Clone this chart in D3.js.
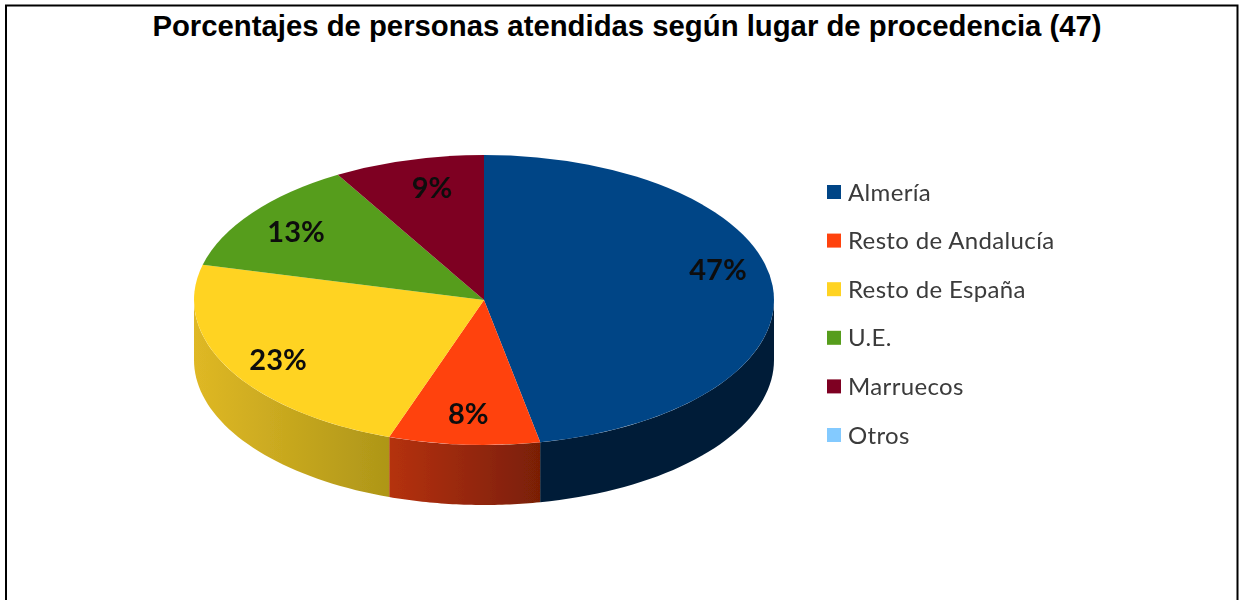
<!DOCTYPE html>
<html><head><meta charset="utf-8">
<script src="https://cdn.jsdelivr.net/npm/d3@7/dist/d3.min.js"></script>
<style>html,body{margin:0;padding:0;background:#fff;overflow:hidden}svg{display:block}</style>
</head><body><svg id="c" width="1243" height="600"></svg>
<script>
const titleText = "Porcentajes de personas atendidas según lugar de procedencia (47)";
const categories = ["Almería","Resto de Andalucía","Resto de España","U.E.","Marruecos","Otros"];
const shares = [46.9,8.4,23.6,12.7,8.4,0];
const labels = ["47%","8%","23%","13%","9%",""];
const colors = ["#004586","#ff420e","#ffd320","#579d1c","#7e0021","#83caff"];
const sideLeft = ["#001c38","#b5310f","#dfb825","#3a6a12","#500015","#83caff"];
const sideRight = ["#001c38","#7a1f06","#ae9618","#3a6a12","#500015","#83caff"];

const svg = d3.select("#c");
const defs = svg.append("defs");
defs.append("filter").attr("id","soft").append("feGaussianBlur").attr("stdDeviation",0.7);

svg.append("path").attr("d","M6 600V5.5H1237.5V600").attr("fill","none").attr("stroke","#000").attr("stroke-width",2);
svg.append("text").attr("x",627).attr("y",36).attr("text-anchor","middle")
  .attr("font-family","Liberation Sans").attr("font-weight","bold").attr("font-size",29.3).attr("fill","#000").text(titleText);

const cx=484, cy=300, rx=290, ry=145, depth=60;
const pie = d3.pie().sort(null).value(d=>d.share);
const data = categories.map((name,i)=>({name,share:shares[i],label:labels[i],i}));
const arcs = pie(data);
const px = d3.scaleLinear().domain([-1,1]).range([cx-rx,cx+rx]);
const py = d3.scaleLinear().domain([-1,1]).range([cy-ry,cy+ry]);
const chart = svg.append("g").attr("filter","url(#soft)");

const sideG = chart.append("g");
arcs.forEach(a=>{
  const a0=Math.max(a.startAngle,Math.PI/2), a1=Math.min(a.endAngle,3*Math.PI/2);
  if(a1<=a0) return;
  const id="side"+a.data.i;
  const g=defs.append("linearGradient").attr("id",id).attr("gradientUnits","userSpaceOnUse")
    .attr("x1",px(Math.min(Math.sin(a0),Math.sin(a1)))).attr("x2",px(Math.max(Math.sin(a0),Math.sin(a1)))).attr("y1",0).attr("y2",0);
  g.append("stop").attr("offset",0).attr("stop-color",sideLeft[a.data.i]);
  g.append("stop").attr("offset",1).attr("stop-color",sideRight[a.data.i]);
  const p=d3.range(0,41).map(k=>a0+(a1-a0)*k/40);
  const pts=p.map(t=>[px(Math.sin(t)),py(-Math.cos(t))]);
  const d=d3.line()(pts)+"L"+pts.slice().reverse().map(q=>q[0]+" "+(q[1]+depth)).join("L")+"Z";
  sideG.append("path").attr("d",d).attr("fill","url(#"+id+")");
});

const arcGen=d3.arc().innerRadius(0).outerRadius(1);
chart.append("g").attr("transform",`translate(${cx},${cy}) scale(${rx},${ry})`)
  .selectAll("path").data(arcs.filter(a=>a.data.share>0)).join("path")
  .attr("d",arcGen).attr("fill",d=>colors[d.data.i]);

// label placement: radius fraction and small angular nudge per wedge
const labelR=[0.833,0.79,0.822,0.80,0.79];
const labelNudge=[-8.8,0,-1.8,-1,2].map(v=>v*Math.PI/180);
const mid=d=>(d.startAngle+d.endAngle)/2+labelNudge[d.data.i];
chart.append("g").selectAll("text").data(arcs.filter(a=>a.data.label)).join("text")
  .attr("x",d=>px(labelR[d.data.i]*Math.sin(mid(d))))
  .attr("y",d=>py(-labelR[d.data.i]*Math.cos(mid(d)))+10)
  .attr("text-anchor","middle").attr("font-family","Lato").attr("font-weight","bold")
  .attr("font-size",29).attr("fill","#0d0d0d").text(d=>d.data.label);

const ly=d3.scalePoint().domain(categories).range([192,435]);
const leg=chart.append("g").selectAll("g").data(categories).join("g")
  .attr("transform",d=>`translate(827,${ly(d)})`);
leg.append("rect").attr("y",-7).attr("width",14).attr("height",14).attr("fill",(d,i)=>colors[i]);
leg.append("text").attr("x",21).attr("y",8.5).attr("font-family","Lato").attr("font-size",24).attr("letter-spacing",0.35)
  .attr("fill","#3a3a3a").text(d=>d);
</script></body></html>
